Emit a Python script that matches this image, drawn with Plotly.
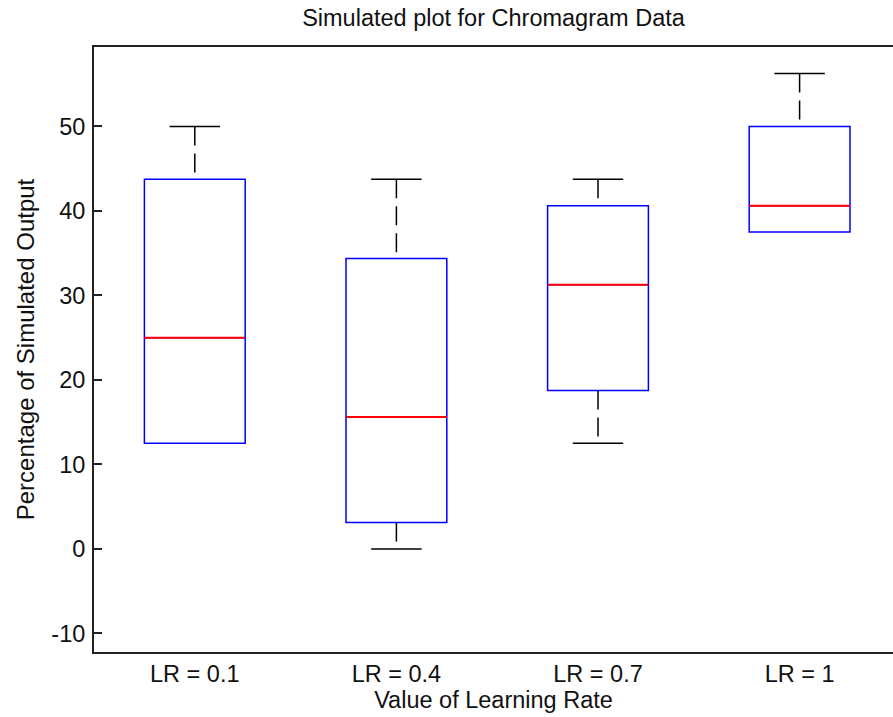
import plotly.graph_objects as go

categories = ["LR = 0.1", "LR = 0.4", "LR = 0.7", "LR = 1"]
positions = [1, 2, 3, 4]
lower_whisker = [12.5, 0.0, 12.5, 37.5]
q1 = [12.5, 3.125, 18.75, 37.5]
median = [25.0, 15.625, 31.25, 40.625]
q3 = [43.75, 34.375, 40.625, 50.0]
upper_whisker = [50.0, 43.75, 43.75, 56.25]
y_ticks = [-10, 0, 10, 20, 30, 40, 50]
y_tick_text = ["-10", "0", "10", "20", "30", "40", "50"]

FONT = "Liberation Sans"
BOX_W = 0.5
CAP_W = 0.25

fig = go.Figure()

fig.add_trace(go.Box(
    x=positions, q1=q1, median=median, q3=q3,
    lowerfence=q1, upperfence=q3,
    width=BOX_W, whiskerwidth=0,
    line=dict(color="#0000FF", width=1.5),
    fillcolor="rgba(255,255,255,0)",
    showlegend=False, hoverinfo="skip",
))

for p, lw, a, m, b, uw in zip(positions, lower_whisker, q1, median, q3, upper_whisker):
    # median
    fig.add_trace(go.Scatter(x=[p - BOX_W / 2, p + BOX_W / 2], y=[m, m], mode="lines",
                             line=dict(color="#FF0000", width=2), showlegend=False, hoverinfo="skip"))
    # upper whisker (drawn from top down)
    if uw > b:
        fig.add_trace(go.Scatter(x=[p, p], y=[uw, b], mode="lines",
                                 line=dict(color="black", width=1.5, dash="19px,8px"),
                                 showlegend=False, hoverinfo="skip"))
        fig.add_trace(go.Scatter(x=[p - CAP_W / 2, p + CAP_W / 2], y=[uw, uw], mode="lines",
                                 line=dict(color="black", width=1.5), showlegend=False, hoverinfo="skip"))
    # lower whisker (drawn from box down)
    if lw < a:
        fig.add_trace(go.Scatter(x=[p, p], y=[a, lw], mode="lines",
                                 line=dict(color="black", width=1.5, dash="19px,8px"),
                                 showlegend=False, hoverinfo="skip"))
        fig.add_trace(go.Scatter(x=[p - CAP_W / 2, p + CAP_W / 2], y=[lw, lw], mode="lines",
                                 line=dict(color="black", width=1.5), showlegend=False, hoverinfo="skip"))

fig.update_layout(
    width=893, height=717,
    margin=dict(l=94, r=0, t=47, b=65),
    paper_bgcolor="white", plot_bgcolor="white",
    font=dict(family=FONT, size=23, color="#111111"),
    title=dict(text="Simulated plot for Chromagram Data", x=0.5, xref="paper", xanchor="center",
               y=1 - 18 / 717, yref="container", yanchor="middle",
               font=dict(family=FONT, size=23.5, color="#111111")),
    xaxis=dict(range=[0.5, 0.5 + 799 / 201.6], tickvals=positions, ticktext=categories,
               tickfont=dict(size=23.5),
               showgrid=False, zeroline=False, showline=True, linecolor="#222222", linewidth=2,
               mirror=True, ticks="",
               title=dict(text="Value of Learning Rate", standoff=0, font=dict(size=23.5))),
    yaxis=dict(range=[-12.2, 59.4], tickvals=y_ticks, ticktext=y_tick_text,
               tickfont=dict(size=23.5), showgrid=False, zeroline=False,
               showline=True, linecolor="#222222", linewidth=2, ticks="inside", ticklen=8,
               tickwidth=2, tickcolor="#222222", ticklabelstandoff=2,
               title=dict(text="Percentage of Simulated Output", standoff=10, font=dict(size=24))),
)

fig.write_html("out.html")
